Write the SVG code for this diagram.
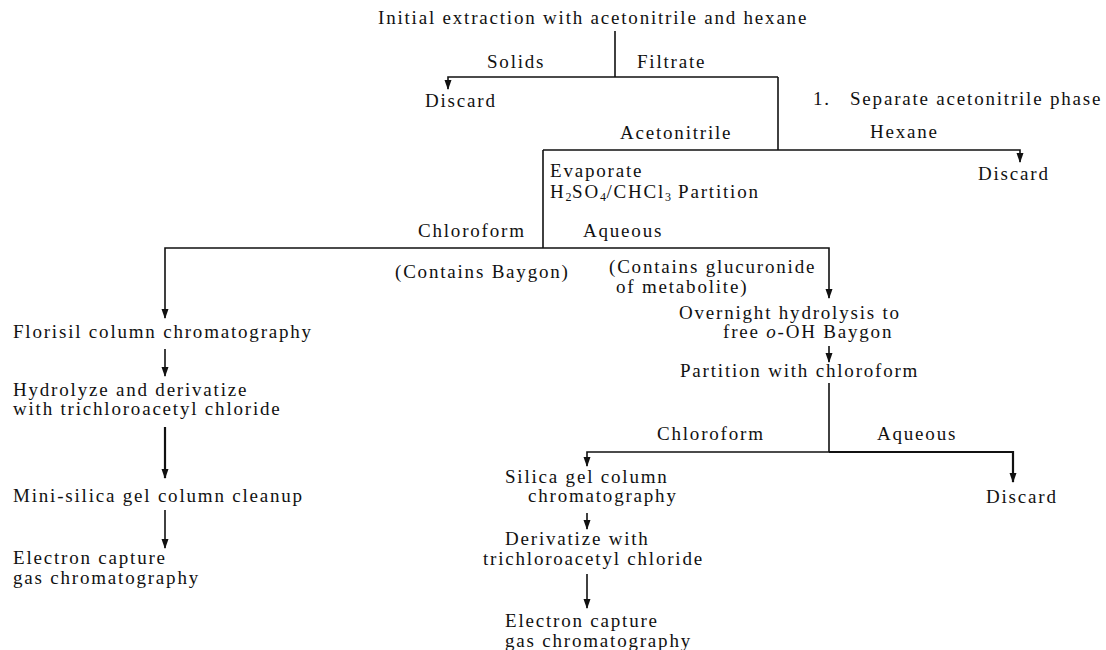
<svg xmlns="http://www.w3.org/2000/svg" width="1106" height="650" viewBox="0 0 1106 650">
<defs>
<marker id="ah" markerUnits="userSpaceOnUse" markerWidth="10" markerHeight="12" refX="9" refY="3.5" orient="auto">
<path d="M0,0 L10,3.5 L0,7 Z" fill="#111"/>
</marker>
<style>
text{font-family:"Liberation Serif","Times New Roman",serif;font-size:19px;letter-spacing:1.8px;fill:#111}
.ln{fill:none;stroke:#111;stroke-width:1.6}
.bold{stroke-width:2.2}
.sub{font-size:12px;letter-spacing:0.5px}
</style>
</defs>
<rect width="1106" height="650" fill="#fff"/>
<g id="connectors">
<line class="ln" x1="615" y1="31" x2="615" y2="77"/>
<polyline class="ln" points="778,77 448,77 448,89" marker-end="url(#ah)"/>
<line class="ln" x1="778" y1="77" x2="778" y2="150"/>
<polyline class="ln" points="543,150 1020,150 1020,162" marker-end="url(#ah)"/>
<line class="ln" x1="543" y1="150" x2="543" y2="248"/>
<polyline class="ln" points="543,248 165,248 165,318" marker-end="url(#ah)"/>
<polyline class="ln" points="543,248 829,248 829,298" marker-end="url(#ah)"/>
<line class="ln" x1="829" y1="346" x2="829" y2="362" marker-end="url(#ah)"/>
<line class="ln" x1="829" y1="383" x2="829" y2="452"/>
<polyline class="ln" points="829,452 587,452 587,466" marker-end="url(#ah)"/>
<polyline class="ln bold" points="829,452 1013,452 1013,482" marker-end="url(#ah)"/>
<line class="ln" x1="587" y1="513" x2="587" y2="529" marker-end="url(#ah)"/>
<line class="ln" x1="587" y1="574" x2="587" y2="608" marker-end="url(#ah)"/>
<line class="ln" x1="165" y1="349" x2="165" y2="376" marker-end="url(#ah)"/>
<line class="ln bold" x1="165" y1="427" x2="165" y2="478" marker-end="url(#ah)"/>
<line class="ln" x1="165" y1="510" x2="165" y2="548" marker-end="url(#ah)"/>
</g>
<g id="n-initial"><text x="378" y="24">Initial extraction with acetonitrile and hexane</text></g>
<g id="l-solids"><text x="487" y="68">Solids</text></g>
<g id="l-filtrate"><text x="637" y="68">Filtrate</text></g>
<g id="n-discard1"><text x="425" y="107">Discard</text></g>
<g id="n-step1"><text x="813" y="105">1.</text><text x="850" y="105">Separate acetonitrile phase</text></g>
<g id="l-acetonitrile"><text x="620" y="139">Acetonitrile</text></g>
<g id="l-hexane"><text x="870" y="138">Hexane</text></g>
<g id="n-discard2"><text x="978" y="180">Discard</text></g>
<g id="n-evaporate"><text x="550" y="177">Evaporate</text><text x="550" y="198">H<tspan class="sub" dy="3">2</tspan><tspan dy="-3">SO</tspan><tspan class="sub" dy="3">4</tspan><tspan dy="-3">/CHCl</tspan><tspan class="sub" dy="3">3</tspan><tspan dy="-3"> Partition</tspan></text></g>
<g id="l-chloroform1"><text x="418" y="237">Chloroform</text></g>
<g id="l-aqueous1"><text x="583" y="237">Aqueous</text></g>
<g id="n-baygon"><text x="395" y="278">(Contains Baygon)</text></g>
<g id="n-glucuronide"><text x="609" y="273">(Contains glucuronide</text><text x="616" y="293">of metabolite)</text></g>
<g id="n-hydrolysis"><text x="679" y="319">Overnight hydrolysis to</text><text x="723" y="338">free <tspan font-style="italic">o</tspan>-OH Baygon</text></g>
<g id="n-partition"><text x="680" y="377">Partition with chloroform</text></g>
<g id="l-chloroform2"><text x="657" y="440">Chloroform</text></g>
<g id="l-aqueous2"><text x="877" y="440">Aqueous</text></g>
<g id="n-discard3"><text x="986" y="503">Discard</text></g>
<g id="n-silica"><text x="505" y="483">Silica gel column</text><text x="528" y="502">chromatography</text></g>
<g id="n-derivatize"><text x="505" y="545">Derivatize with</text><text x="483" y="565">trichloroacetyl chloride</text></g>
<g id="n-ecgc2"><text x="505" y="627">Electron capture</text><text x="505" y="647">gas chromatography</text></g>
<g id="n-florisil"><text x="13" y="338">Florisil column chromatography</text></g>
<g id="n-hydrolyze"><text x="13" y="396">Hydrolyze and derivatize</text><text x="13" y="415">with trichloroacetyl chloride</text></g>
<g id="n-minisilica"><text x="13" y="502">Mini-silica gel column cleanup</text></g>
<g id="n-ecgc1"><text x="13" y="564">Electron capture</text><text x="13" y="584">gas chromatography</text></g>
</svg>
